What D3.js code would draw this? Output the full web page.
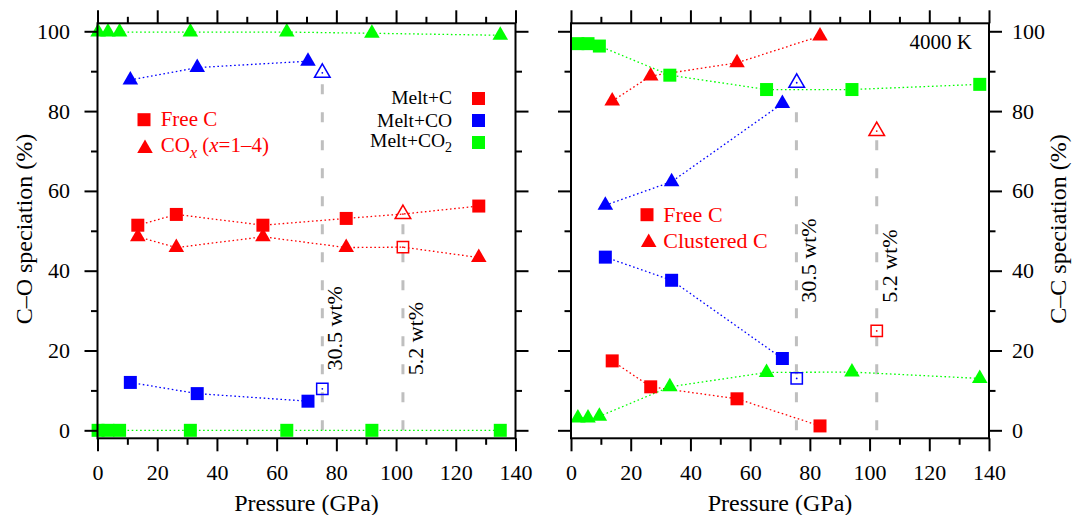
<!DOCTYPE html>
<html>
<head>
<meta charset="utf-8">
<script src="https://cdn.jsdelivr.net/npm/d3@7"></script>
<style>
  body { margin: 0; background: #fff; }
</style>
</head>
<body>
<div id="chart-area"></div>
<script>
// ---- data: left panel (C-O speciation) ----
// Melt+C : upper / lower dotted lines, the 102 GPa run (5.2 wt%) drawn open
const coMeltC_P     = [13.5, 26.4, 55.4, 83.3, 102.3, 127.7]
const coMeltC_upper = [51.4, 54.1, 51.4, 53.1, 54.2, 56.2]
const coMeltC_lower = [48.5, 45.8, 48.5, 45.8, 45.9, 43.3]
const coMeltC_upperShape = ["sq", "sq", "sq", "sq", "triOpen", "sq"]
const coMeltC_lowerShape = ["tri", "tri", "tri", "tri", "sqOpen", "tri"]

// Melt+CO
const coMeltCO_P     = [11.0, 33.4, 70.5]
const coMeltCO_COx   = [87.8, 90.9, 92.5]
const coMeltCO_freeC = [12.0, 9.2, 7.3]
const coMeltCO_openP = 75.3
const coMeltCO_openCOx = 89.6
const coMeltCO_openFreeC = 10.4

// Melt+CO2
const coMeltCO2_P     = [0.2, 3.5, 7.4, 31.1, 63.4, 91.9, 134.9]
const coMeltCO2_COx   = [99.8, 99.8, 99.8, 99.8, 99.8, 99.5, 99.0]
const coMeltCO2_freeC = [0, 0, 0, 0, 0, 0, 0]

// ---- data: right panel (C-C speciation, 4000 K) ----
const ccMeltC_P       = [13.8, 26.7, 55.6, 83.4]
const ccMeltC_cluster = [82.5, 88.8, 92.1, 98.8]
const ccMeltC_freeC   = [17.4, 10.9, 7.9, 1.1]
const ccMeltC_openP = 102.4
const ccMeltC_openCluster = 75.0
const ccMeltC_openFreeC = 24.9

const ccMeltCO_P       = [11.5, 33.7, 70.8]
const ccMeltCO_cluster = [56.4, 62.3, 81.9]
const ccMeltCO_freeC   = [43.4, 37.6, 18.0]
const ccMeltCO_openP = 75.6
const ccMeltCO_openCluster = 87.1
const ccMeltCO_openFreeC = 13.0

const ccMeltCO2_P       = [2.3, 5.7, 9.5, 33.1, 65.5, 94.1, 136.9]
const ccMeltCO2_freeC   = [96.9, 96.9, 96.3, 89.0, 85.4, 85.4, 86.7]
const ccMeltCO2_cluster = [3.1, 3.1, 3.5, 10.9, 14.5, 14.6, 13.0]

// dashed guides (P, top value, label, label y value)
const guideLabels = ["30.5 wt%", "5.2 wt%"]
const leftGuideP = [75.3, 102.3]
const leftGuideTop = [88.3, 53.0]
const leftGuideLabelY = [15.0, 13.8]
const rightGuideP = [75.5, 102.4]
const rightGuideTop = [81.5, 73.0]
const rightGuideLabelY = [32.0, 32.0]

const xMajor = [0, 20, 40, 60, 80, 100, 120, 140]
const xMinor = [10, 30, 50, 70, 90, 110, 130]
const yMajor = [0, 20, 40, 60, 80, 100]
const yMinor = [10, 30, 50, 70, 90]

const RED = "#ff0000", BLUE = "#0000ff", GREEN = "#00ff00"
const SERIF = '"Liberation Serif", "Times New Roman", Times, "DejaVu Serif", serif'

// ---- layout ----
const W = 1078, H = 515
const TOP = 23.3, BOTTOM = 438.3

const svg = d3.select("#chart-area").append("svg")
  .attr("width", W)
  .attr("height", H)
  .attr("font-family", SERIF)

const y = d3.scaleLinear().domain([-2, 102]).range([BOTTOM, TOP])
const xL = d3.scaleLinear().domain([0, 140]).range([97.5, 515.5])
const xR = d3.scaleLinear().domain([0, 140]).range([571, 989])

const SYM = {
  sq: d3.symbol().type(d3.symbolSquare).size(169)(),
  tri: d3.symbol().type(d3.symbolTriangle).size(105)(),
  sqOpen: d3.symbol().type(d3.symbolSquare).size(128)(),
  triOpen: d3.symbol().type(d3.symbolTriangle).size(105)()
}

function styleAxis(sel, fontSize) {
  sel.attr("font-family", SERIF).attr("font-size", null)
  sel.select(".domain").remove()
  sel.selectAll("line").attr("stroke", "#000").attr("stroke-width", 2)
  sel.selectAll("text").attr("font-size", fontSize).attr("fill", "#000")
}

function drawAxes(x, labelSide) {
  const [x0, x1] = x.range()
  const layers = [
    { axis: d3.axisBottom, pos: `translate(0,${BOTTOM})`, s: x, major: xMajor, minor: xMinor, label: true, pad: 13 },
    { axis: d3.axisTop, pos: `translate(0,${TOP})`, s: x, major: xMajor, minor: xMinor, label: false, pad: 3 },
    { axis: d3.axisLeft, pos: `translate(${x0},0)`, s: y, major: yMajor, minor: yMinor, label: labelSide === "left", pad: 14.5 },
    { axis: d3.axisRight, pos: `translate(${x1},0)`, s: y, major: yMajor, minor: yMinor, label: labelSide === "right", pad: 10 }
  ]
  layers.forEach(l => {
    const major = l.axis(l.s).tickValues(l.major).tickSize(13).tickSizeOuter(0).tickPadding(l.pad)
    if (!l.label) major.tickFormat("")
    svg.append("g").attr("transform", l.pos).call(major).call(styleAxis, "22px")
    svg.append("g").attr("transform", l.pos)
      .call(l.axis(l.s).tickValues(l.minor).tickSize(6.5).tickSizeOuter(0).tickFormat(""))
      .call(styleAxis, "22px")
  })
}

function dotted(g, x, ps, vs, color) {
  g.append("path")
    .datum(d3.zip(ps, vs))
    .attr("d", d3.line().x(d => x(d[0])).y(d => y(d[1])))
    .attr("fill", "none")
    .attr("stroke", color)
    .attr("stroke-width", 1.3)
    .attr("stroke-dasharray", "1.6,2.6")
}

function marks(g, x, ps, vs, shapes, color) {
  const shapeOf = i => Array.isArray(shapes) ? shapes[i] : shapes
  const pts = g.selectAll(null)
    .data(d3.zip(ps, vs).map((d, i) => ({ p: d[0], v: d[1], s: shapeOf(i) })))
    .enter().append("g")
    .attr("transform", d => `translate(${x(d.p)},${y(d.v)})`)
  pts.append("path")
    .attr("d", d => SYM[d.s])
    .attr("fill", d => d.s.endsWith("Open") ? "none" : color)
    .attr("stroke", d => d.s.endsWith("Open") ? color : "none")
    .attr("stroke-width", 1.5)
  pts.filter(d => d.s.endsWith("Open")).append("circle")
    .attr("r", 0.9)
    .attr("fill", color)
}

function guides(g, x, ps, tops, labelYs) {
  ps.forEach((p, i) => {
    g.append("path")
      .attr("d", `M${x(p)},${y(0)}V${y(tops[i])}`)
      .attr("stroke", "#bfbfbf")
      .attr("stroke-width", 3)
      .attr("stroke-dasharray", "10,18")
      .attr("fill", "none")
    g.append("text")
      .attr("transform", `translate(${x(p) + 20},${y(labelYs[i])}) rotate(-90)`)
      .attr("font-size", "22px")
      .text(guideLabels[i])
  })
}

// ---- left panel ----
const gL = svg.append("g")
guides(gL, xL, leftGuideP, leftGuideTop, leftGuideLabelY)

dotted(gL, xL, coMeltCO2_P, coMeltCO2_COx, GREEN)
dotted(gL, xL, coMeltCO2_P, coMeltCO2_freeC, GREEN)
dotted(gL, xL, coMeltCO_P, coMeltCO_COx, BLUE)
dotted(gL, xL, coMeltCO_P, coMeltCO_freeC, BLUE)
dotted(gL, xL, coMeltC_P, coMeltC_upper, RED)
dotted(gL, xL, coMeltC_P, coMeltC_lower, RED)

marks(gL, xL, coMeltCO2_P, coMeltCO2_COx, "tri", GREEN)
marks(gL, xL, coMeltCO2_P, coMeltCO2_freeC, "sq", GREEN)
marks(gL, xL, coMeltCO_P, coMeltCO_COx, "tri", BLUE)
marks(gL, xL, coMeltCO_P, coMeltCO_freeC, "sq", BLUE)
marks(gL, xL, [coMeltCO_openP], [coMeltCO_openCOx], "triOpen", BLUE)
marks(gL, xL, [coMeltCO_openP], [coMeltCO_openFreeC], "sqOpen", BLUE)
marks(gL, xL, coMeltC_P, coMeltC_upper, coMeltC_upperShape, RED)
marks(gL, xL, coMeltC_P, coMeltC_lower, coMeltC_lowerShape, RED)

// ---- right panel ----
const gR = svg.append("g")
guides(gR, xR, rightGuideP, rightGuideTop, rightGuideLabelY)

dotted(gR, xR, ccMeltCO2_P, ccMeltCO2_freeC, GREEN)
dotted(gR, xR, ccMeltCO2_P, ccMeltCO2_cluster, GREEN)
dotted(gR, xR, ccMeltCO_P, ccMeltCO_cluster, BLUE)
dotted(gR, xR, ccMeltCO_P, ccMeltCO_freeC, BLUE)
dotted(gR, xR, ccMeltC_P, ccMeltC_cluster, RED)
dotted(gR, xR, ccMeltC_P, ccMeltC_freeC, RED)

marks(gR, xR, ccMeltCO2_P, ccMeltCO2_freeC, "sq", GREEN)
marks(gR, xR, ccMeltCO2_P, ccMeltCO2_cluster, "tri", GREEN)
marks(gR, xR, ccMeltCO_P, ccMeltCO_cluster, "tri", BLUE)
marks(gR, xR, ccMeltCO_P, ccMeltCO_freeC, "sq", BLUE)
marks(gR, xR, [ccMeltCO_openP], [ccMeltCO_openCluster], "triOpen", BLUE)
marks(gR, xR, [ccMeltCO_openP], [ccMeltCO_openFreeC], "sqOpen", BLUE)
marks(gR, xR, ccMeltC_P, ccMeltC_cluster, "tri", RED)
marks(gR, xR, ccMeltC_P, ccMeltC_freeC, "sq", RED)
marks(gR, xR, [ccMeltC_openP], [ccMeltC_openCluster], "triOpen", RED)
marks(gR, xR, [ccMeltC_openP], [ccMeltC_openFreeC], "sqOpen", RED)

// ---- frames and axes ----
drawAxes(xL, "left")
drawAxes(xR, "right")
;[xL, xR].forEach(x => {
  svg.append("rect")
    .attr("x", x.range()[0]).attr("y", TOP)
    .attr("width", x.range()[1] - x.range()[0]).attr("height", BOTTOM - TOP)
    .attr("fill", "none").attr("stroke", "#000").attr("stroke-width", 2)
})

// axis titles
svg.append("text")
  .attr("transform", "translate(32, 229) rotate(-90)")
  .attr("text-anchor", "middle").attr("font-size", "24px")
  .text("C–O speciation (%)")
svg.append("text")
  .attr("transform", "translate(1066, 229) rotate(-90)")
  .attr("text-anchor", "middle").attr("font-size", "24px")
  .text("C–C speciation (%)")
;[xL, xR].forEach(x => {
  svg.append("text")
    .attr("x", (x.range()[0] + x.range()[1]) / 2)
    .attr("y", 510.5)
    .attr("text-anchor", "middle").attr("font-size", "24px")
    .text("Pressure (GPa)")
})

svg.append("text")
  .attr("x", 972).attr("y", 49)
  .attr("text-anchor", "end").attr("font-size", "21px")
  .text("4000 K")

// ---- legends ----
// left: systems
const sysNames = ["Melt+C", "Melt+CO", "Melt+CO"]
const sysColors = [RED, BLUE, GREEN]
const sysBase = [104, 126.5, 147]
const sysBoxY = [98.5, 120.5, 142.5]
sysNames.forEach((n, i) => {
  const t = svg.append("text")
    .attr("x", 452).attr("y", sysBase[i])
    .attr("text-anchor", "end").attr("font-size", "19.5px")
    .text(n)
  if (i === 2) t.append("tspan").attr("font-size", "14px").attr("dy", 5).text("2")
  svg.append("path")
    .attr("transform", `translate(478.5,${sysBoxY[i]})`)
    .attr("d", SYM.sq).attr("fill", sysColors[i])
})

// left: species
svg.append("path").attr("transform", "translate(144,119.7)").attr("d", SYM.sq).attr("fill", RED)
svg.append("text").attr("x", 160.7).attr("y", 126).attr("font-size", "21px").attr("fill", RED).text("Free C")
svg.append("path").attr("transform", "translate(145,148.5)").attr("d", SYM.tri).attr("fill", RED)
const cox = svg.append("text").attr("x", 160.7).attr("y", 151.7).attr("font-size", "21px").attr("fill", RED)
cox.append("tspan").text("CO")
cox.append("tspan").attr("font-size", "16px").attr("font-style", "italic").attr("dy", 6).text("x")
cox.append("tspan").attr("dy", -6).text(" (")
cox.append("tspan").attr("font-style", "italic").text("x")
cox.append("tspan").text("=1–4)")

// right: species
svg.append("path").attr("transform", "translate(647,214.7)").attr("d", SYM.sq).attr("fill", RED)
svg.append("text").attr("x", 663.3).attr("y", 222.3).attr("font-size", "22px").attr("fill", RED).text("Free C")
svg.append("path").attr("transform", "translate(648.7,242.5)").attr("d", SYM.tri).attr("fill", RED)
svg.append("text").attr("x", 663.3).attr("y", 248.3).attr("font-size", "22px").attr("fill", RED).text("Clustered C")
</script>
</body>
</html>
